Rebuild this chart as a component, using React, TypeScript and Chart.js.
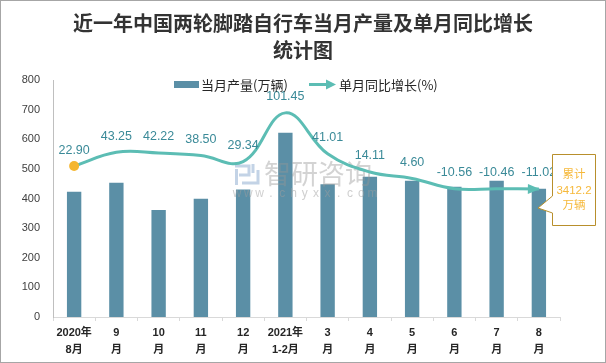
import React, { useEffect, useRef } from 'react';
import { Chart, registerables } from 'chart.js';

Chart.register(...registerables);

const categories: string[][] = [
  ['2020年', '8月'], ['9', '月'], ['10', '月'], ['11', '月'], ['12', '月'],
  ['2021年', '1-2月'], ['3', '月'], ['4', '月'], ['5', '月'], ['6', '月'], ['7', '月'], ['8', '月'],
];
const output = [423, 453, 361, 399, 430, 622, 448, 473, 460, 440, 460, 433];
const growth = [22.9, 43.25, 42.22, 38.5, 29.34, 101.45, 41.01, 14.11, 4.6, -10.56, -10.46, -11.02];
const titleLines = ['近一年中国两轮脚踏自行车当月产量及单月同比增长', '统计图'];
const seriesNames = ['当月产量(万辆)', '单月同比增长(%)'];
const noteLines = ['累计', '3412.2', '万辆'];
const watermarkText = '智研咨询';
const watermarkUrl = 'www.chyxx.com';

const BAR = '#5b8fa6';
const LINE = '#5cbdb4';
const DOT = '#f5b62f';
const LABEL = '#3a8a98';

const deco = {
  id: 'deco',
  beforeDraw(chart: any) {
    const ctx = chart.ctx;
    ctx.save();
    ctx.fillStyle = '#ffffff';
    ctx.fillRect(0, 0, chart.width, chart.height);
    ctx.restore();
  },
  afterDatasetDraw(chart: any, args: any) {
    if (args.index !== 0) return;
    const ctx = chart.ctx;
    ctx.save();
    // watermark logo
    ctx.strokeStyle = 'rgba(170,192,220,0.7)';
    ctx.lineWidth = 3;
    ctx.beginPath();
    ctx.moveTo(235, 166); ctx.lineTo(249, 166); ctx.lineTo(249, 175); ctx.lineTo(239, 175);
    ctx.moveTo(236.5, 169); ctx.lineTo(236.5, 185);
    ctx.moveTo(253, 164); ctx.lineTo(253, 173);
    ctx.moveTo(242, 183); ctx.lineTo(258, 183); ctx.lineTo(258, 170);
    ctx.stroke();
    // watermark text
    ctx.fillStyle = 'rgba(150,150,150,0.42)';
    ctx.font = '27px "Noto Sans CJK SC"';
    ctx.textAlign = 'left';
    ctx.textBaseline = 'middle';
    ctx.fillText(watermarkText, 264, 174);
    ctx.font = '12px "Liberation Sans"';
    ctx.fillStyle = 'rgba(160,160,160,0.5)';
    ctx.textAlign = 'center';
    for (let i = 0; i < watermarkUrl.length; i++) {
      ctx.fillText(watermarkUrl[i], 237 + i * 11.3, 194);
    }
    ctx.restore();
  },
  afterDatasetsDraw(chart: any) {
    const ctx = chart.ctx;
    const meta = chart.getDatasetMeta(1);
    const pts = meta.data as any[];
    ctx.save();
    // data labels
    ctx.fillStyle = LABEL;
    ctx.font = '12.5px "Liberation Sans Narrow", "Liberation Sans"';
    ctx.textAlign = 'center';
    ctx.textBaseline = 'middle';
    pts.forEach((p, i) => {
      ctx.fillText(growth[i].toFixed(2), p.x, p.y - 16);
    });
    // arrow head at end
    const last = pts[pts.length - 1];
    let dx = last.x - (last.cp1x ?? NaN);
    let dy = last.y - (last.cp1y ?? NaN);
    if (!isFinite(dx) || !isFinite(dy) || Math.hypot(dx, dy) < 1) {
      const prev = pts[pts.length - 2];
      dx = last.x - prev.x;
      dy = last.y - prev.y;
    }
    const len = Math.hypot(dx, dy);
    const ux = dx / len, uy = dy / len;
    const bx = last.x - ux * 11, by = last.y - uy * 11;
    ctx.fillStyle = LINE;
    ctx.beginPath();
    ctx.moveTo(last.x + ux * 1, last.y + uy * 1);
    ctx.lineTo(bx - uy * 5, by + ux * 5);
    ctx.lineTo(bx + uy * 5, by - ux * 5);
    ctx.closePath();
    ctx.fill();
    ctx.restore();
  },
  afterDraw(chart: any) {
    const ctx = chart.ctx;
    ctx.save();
    // title
    ctx.fillStyle = '#333333';
    ctx.font = 'bold 20px "Noto Sans CJK SC"';
    ctx.textAlign = 'center';
    ctx.textBaseline = 'middle';
    ctx.fillText(titleLines[0], 303, 23);
    ctx.fillText(titleLines[1], 303, 50);

    // legend
    ctx.fillStyle = BAR;
    ctx.fillRect(174, 81, 25, 7);
    ctx.fillStyle = '#262626';
    ctx.font = '13px "Noto Sans CJK SC"';
    ctx.textAlign = 'left';
    ctx.fillText(seriesNames[0], 201, 85);
    ctx.strokeStyle = LINE;
    ctx.lineWidth = 3;
    ctx.beginPath();
    ctx.moveTo(309, 84.5);
    ctx.lineTo(328, 84.5);
    ctx.stroke();
    ctx.fillStyle = LINE;
    ctx.beginPath();
    ctx.moveTo(336, 84.5);
    ctx.lineTo(326, 79.5);
    ctx.lineTo(326, 89.5);
    ctx.closePath();
    ctx.fill();
    ctx.fillStyle = '#262626';
    ctx.fillText(seriesNames[1], 339, 85);

    // callout box
    ctx.beginPath();
    ctx.moveTo(552.5, 154.5);
    ctx.lineTo(595.5, 154.5);
    ctx.lineTo(595.5, 225.5);
    ctx.lineTo(552.5, 225.5);
    ctx.lineTo(552.5, 213);
    ctx.lineTo(538, 208);
    ctx.lineTo(552.5, 196);
    ctx.closePath();
    ctx.fillStyle = '#ffffff';
    ctx.fill();
    ctx.strokeStyle = '#b88f2c';
    ctx.lineWidth = 1;
    ctx.stroke();
    ctx.fillStyle = '#f6b93b';
    ctx.font = '11.5px "Liberation Sans", "Noto Sans CJK SC"';
    ctx.textAlign = 'center';
    ctx.fillText(noteLines[0], 574, 175);
    ctx.fillText(noteLines[1], 574, 191);
    ctx.fillText(noteLines[2], 574, 206);

    // outer border
    ctx.strokeStyle = '#a6a6a6';
    ctx.lineWidth = 1;
    ctx.strokeRect(0.5, 0.5, chart.width - 1, chart.height - 1);
    ctx.restore();
  },
};

export default function App() {
  const ref = useRef<HTMLCanvasElement>(null);
  useEffect(() => {
    if (!ref.current) return;
    const chart = new Chart(ref.current, {
      type: 'bar',
      data: {
        labels: categories as any,
        datasets: [
          {
            type: 'bar',
            label: seriesNames[0],
            data: output,
            backgroundColor: BAR,
            barPercentage: 0.34,
            categoryPercentage: 1,
            yAxisID: 'y',
            order: 2,
          } as any,
          {
            type: 'line',
            label: seriesNames[1],
            data: growth,
            borderColor: LINE,
            borderWidth: 3,
            tension: 0.4,
            pointRadius: growth.map((_, i) => (i === 0 ? 5 : 0)),
            pointBackgroundColor: DOT,
            pointBorderWidth: 0,
            pointBorderColor: DOT,
            yAxisID: 'y1',
            order: 1,
          } as any,
        ],
      },
      options: {
        responsive: false,
        animation: false,
        devicePixelRatio: 1,
        layout: { padding: { top: 80, right: 46, left: 0, bottom: 0 } },
        plugins: {
          legend: { display: false },
          title: { display: false },
          tooltip: { enabled: false },
        },
        scales: {
          x: {
            offset: true,
            grid: {
              offset: true,
              drawOnChartArea: false,
              drawTicks: true,
              tickLength: 4,
              color: '#d9d9d9',
            },
            border: { display: true, color: '#d9d9d9' },
            ticks: {
              color: '#262626',
              font: { family: '"Liberation Sans", "Noto Sans CJK SC"', size: 11, weight: 'bold', lineHeight: 1.55 },
              padding: 3,
              maxRotation: 0,
              autoSkip: false,
            },
            afterFit: (s: any) => { s.height = 46; },
          },
          y: {
            min: 0,
            max: 800,
            grid: { display: false, drawTicks: false },
            border: { display: true, color: '#bfbfbf' },
            ticks: {
              stepSize: 100,
              color: '#404040',
              font: { family: '"Liberation Sans"', size: 11 },
              padding: 13,
            },
            afterFit: (s: any) => { s.width = 53; },
          },
          y1: {
            display: false,
            min: -200,
            max: 150,
          },
        },
      } as any,
      plugins: [deco],
    });
    return () => chart.destroy();
  }, []);
  return (
    <div style={{ position: 'absolute', left: 0, top: 0, width: 606, height: 363 }}>
      <canvas ref={ref} width={606} height={363} style={{ display: 'block' }} />
    </div>
  );
}
